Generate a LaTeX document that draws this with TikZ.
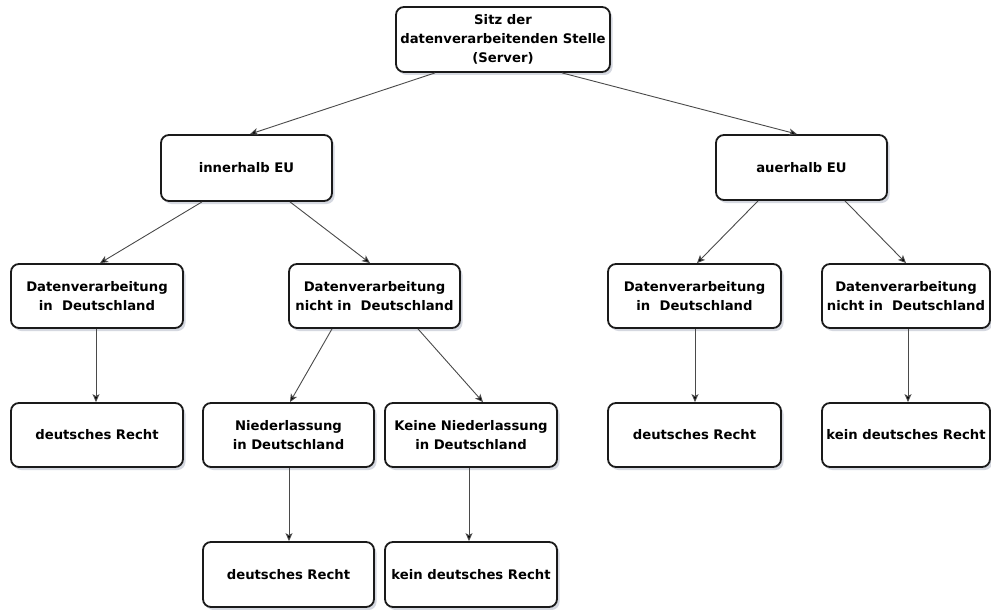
\documentclass[tikz,border=0pt]{standalone}
\usepackage{fontspec}
\setmainfont{DejaVu Sans}
\usetikzlibrary{arrows.meta,shadows}
\definecolor{boxline}{HTML}{1A1A1A}
\definecolor{arrline}{HTML}{4A4A4A}
\definecolor{shadowc}{HTML}{8890A8}
\tikzset{
  box/.style={draw=boxline, line width=1.8pt, rounded corners=8pt, fill=white,
    minimum width=171pt, minimum height=64pt, inner sep=0pt, align=center,
    font=\fontsize{13.2}{19}\selectfont\bfseries,
    drop shadow={shadow xshift=2.5pt, shadow yshift=-3pt, opacity=0.35, fill=shadowc}},
  arr/.style={draw=arrline, line width=0.9pt, -{Stealth[length=8pt,width=7pt,inset=2pt,fill=black]}}
}
\begin{document}
\begin{tikzpicture}[x=1pt,y=-1pt]
\useasboundingbox[fill=white] (0,0) rectangle (991,610);
\node[box, minimum width=214pt, minimum height=65pt] (top) at (503,39.5) {Sitz der\\datenverarbeitenden Stelle\\(Server)};
\node[box, minimum height=66pt] (inn) at (246.5,168) {innerhalb EU};
\node[box, minimum height=65pt] (aus) at (801.5,167.5) {auerhalb EU};
\node[box, minimum width=172pt] (dvL) at (97,296) {Datenverarbeitung\\in\ \ Deutschland};
\node[box] (dvnL) at (374.5,296) {Datenverarbeitung\\nicht in\ \ Deutschland};
\node[box, minimum width=173pt] (dvR) at (694.5,296) {Datenverarbeitung\\in\ \ Deutschland};
\node[box, minimum width=168pt] (dvnR) at (906,296) {Datenverarbeitung\\nicht in\ \ Deutschland};
\node[box, minimum width=172pt] (drL) at (97,435) {deutsches Recht};
\node[box] (nl) at (288.5,435) {Niederlassung\\in Deutschland};
\node[box, minimum width=172pt] (knl) at (471,435) {Keine Niederlassung\\in Deutschland};
\node[box, minimum width=173pt] (drR) at (694.5,435) {deutsches Recht};
\node[box, minimum width=168pt] (kdrR) at (906,435) {kein deutsches Recht};
\node[box, minimum height=65pt] (dr5) at (288.5,574.5) {deutsches Recht};
\node[box, minimum width=172pt, minimum height=65pt] (kdr5) at (471,574.5) {kein deutsches Recht};
\draw[arr] ([xshift=-68pt]top.south) -- ([xshift=3.5pt]inn.north);
\draw[arr] ([xshift=59pt]top.south) -- ([xshift=-4.5pt]aus.north);
\draw[arr] ([xshift=-44.5pt]inn.south) -- ([xshift=3pt]dvL.north);
\draw[arr] ([xshift=43.5pt]inn.south) -- ([xshift=-4.5pt]dvnL.north);
\draw[arr] ([xshift=-43.5pt]aus.south) -- ([xshift=2.5pt]dvR.north);
\draw[arr] ([xshift=43.5pt]aus.south) -- (dvnR.north);
\draw[arr] ([xshift=-1pt]dvL.south) -- ([xshift=-1pt]drL.north);
\draw[arr] ([xshift=-42.5pt]dvnL.south) -- ([xshift=1.5pt]nl.north);
\draw[arr] ([xshift=43.5pt]dvnL.south) -- ([xshift=12pt]knl.north);
\draw[arr] ([xshift=0.5pt]dvR.south) -- ([xshift=0.5pt]drR.north);
\draw[arr] ([xshift=2pt]dvnR.south) -- ([xshift=2pt]kdrR.north);
\draw[arr] ([xshift=0.5pt]nl.south) -- ([xshift=0.5pt]dr5.north);
\draw[arr] ([xshift=-2pt]knl.south) -- ([xshift=-2pt]kdr5.north);
\end{tikzpicture}
\end{document}
